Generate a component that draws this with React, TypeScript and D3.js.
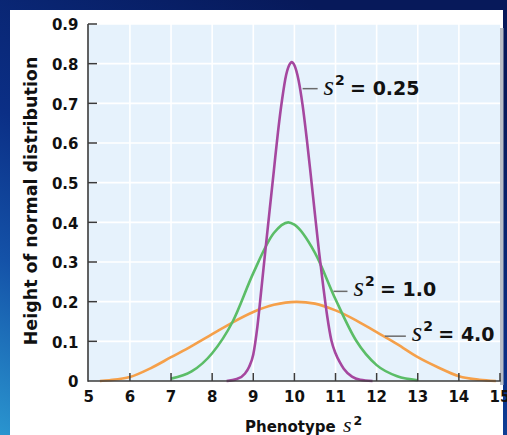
import React from "react";
import * as d3 from "d3";

// ---- data ----
const purpleX = [8.35, 8.6, 8.8, 8.9, 9.0, 9.1, 9.2, 9.3, 9.4, 9.5, 9.6, 9.7, 9.8, 9.9, 9.93, 10.0, 10.1, 10.2, 10.3, 10.4, 10.5, 10.6, 10.7, 10.8, 10.9, 11.0, 11.1, 11.2, 11.4, 11.6, 11.9];
const purpleY = [0, 0.005, 0.019, 0.036, 0.067, 0.137, 0.235, 0.335, 0.433, 0.53, 0.627, 0.709, 0.772, 0.801, 0.804, 0.796, 0.759, 0.695, 0.611, 0.517, 0.42, 0.325, 0.24, 0.162, 0.102, 0.07, 0.048, 0.031, 0.011, 0.003, 0];

const greenX = [7.0, 7.5, 8.0, 8.5, 9.0, 9.5, 9.85, 10.0, 10.5, 11.0, 11.5, 12.0, 12.5, 13.0];
const greenY = [0.006, 0.024, 0.07, 0.15, 0.272, 0.373, 0.4, 0.394, 0.323, 0.206, 0.102, 0.04, 0.012, 0.002];

const orangeX = [5.27, 5.5, 6.0, 6.5, 7.0, 7.5, 8.0, 8.5, 9.0, 9.5, 10.05, 10.5, 11.0, 11.5, 12.0, 12.5, 13.0, 13.5, 14.0, 14.5, 14.9];
const orangeY = [0, 0.002, 0.01, 0.032, 0.06, 0.088, 0.118, 0.148, 0.174, 0.192, 0.1995, 0.195, 0.178, 0.153, 0.123, 0.093, 0.06, 0.034, 0.012, 0.003, 0];

const xTicks = [5, 6, 7, 8, 9, 10, 11, 12, 13, 14, 15];
const yTicks = [0, 0.1, 0.2, 0.3, 0.4, 0.5, 0.6, 0.7, 0.8, 0.9];
const yTickLabels = ["0", "0.1", "0.2", "0.3", "0.4", "0.5", "0.6", "0.7", "0.8", "0.9"];

const labelVals = ["0.25", "1.0", "4.0"];
// anchor points on the curves (x, y) where the leader lines start
const labelAnchorX = [10.2, 10.95, 12.2];
const labelAnchorY = [0.737, 0.226, 0.113];

const W = 507;
const H = 435;
const L = 88, R = 500, T = 24, B = 381;

const FONT = "'DejaVu Sans', Verdana, sans-serif";
const SERIF = "'Liberation Serif', 'DejaVu Serif', serif";

export default function App() {
  const x = d3.scaleLinear().domain([5, 15]).range([L + 0.8, R]);
  const y = d3.scaleLinear().domain([0, 0.9]).range([B, T]);

  const line = d3
    .line<[number, number]>()
    .x((d) => x(d[0]))
    .y((d) => y(d[1]))
    .curve(d3.curveMonotoneX);

  const series = [
    { xs: orangeX, ys: orangeY, color: "#f5a04a" },
    { xs: greenX, ys: greenY, color: "#5bbd67" },
    { xs: purpleX, ys: purpleY, color: "#a5479f" },
  ];

  const labels = labelVals.map((v, i) => {
    const ax = x(labelAnchorX[i]);
    const ay = y(labelAnchorY[i]);
    const len = [15, 14, 21][i];
    const sx = ax + len + 6;
    return { v, ax, ay, len, sx, base: ay + [6, 5, 5][i] };
  });

  return (
    <svg
      width={W}
      height={H}
      style={{ position: "absolute", left: 0, top: 0, display: "block" }}
    >
      <defs>
        <linearGradient id="bg" x1="0.6" y1="0" x2="0" y2="1">
          <stop offset="0" stopColor="#07195a" />
          <stop offset="0.45" stopColor="#0b2f86" />
          <stop offset="0.7" stopColor="#1452a8" />
          <stop offset="1" stopColor="#2a95cf" />
        </linearGradient>
      </defs>
      <rect x={0} y={0} width={W} height={H} fill="url(#bg)" />
      <rect x={10} y={10} width={493} height={H - 10} fill="#ffffff" />

      {/* plot shadow + background */}
      <rect x={R} y={T + 4} width={3.5} height={B - T} fill="#b9bec7" />
      <rect x={L} y={T} width={R - L} height={B - T} fill="#e6f2fc" />

      {/* grid */}
      {xTicks.slice(1, -1).map((t) => (
        <line key={"gx" + t} x1={x(t)} x2={x(t)} y1={T} y2={B} stroke="#ffffff" strokeWidth={1.6} />
      ))}
      {yTicks.slice(1).map((t) => (
        <line key={"gy" + t} x1={L} x2={R} y1={y(t)} y2={y(t)} stroke="#ffffff" strokeWidth={1.6} />
      ))}

      {/* curves */}
      {series.map((s, i) => (
        <path
          key={i}
          d={line(s.xs.map((v, j) => [v, s.ys[j]] as [number, number])) || ""}
          fill="none"
          stroke={s.color}
          strokeWidth={2.6}
          strokeLinejoin="round"
        />
      ))}

      {/* axes */}
      <line x1={L} x2={L} y1={T} y2={B + 0.8} stroke="#3b3b3b" strokeWidth={1.6} />
      <line x1={L} x2={R + 0.8} y1={B} y2={B} stroke="#3b3b3b" strokeWidth={1.6} />
      {yTicks.slice(1).map((t) => (
        <line key={"ty" + t} x1={L} x2={L + 9} y1={y(t)} y2={y(t)} stroke="#3b3b3b" strokeWidth={1.5} />
      ))}
      {xTicks.slice(1).map((t) => (
        <line key={"tx" + t} x1={x(t)} x2={x(t)} y1={B} y2={B - 8} stroke="#3b3b3b" strokeWidth={1.5} />
      ))}

      {/* tick labels */}
      {yTicks.map((t, i) => (
        <text
          key={"ly" + t}
          x={78.5}
          y={y(t) + 6.2}
          textAnchor="end"
          fontFamily={FONT}
          fontWeight="bold"
          fontSize={15}
          fill="#111"
        >
          {yTickLabels[i]}
        </text>
      ))}
      {xTicks.map((t) => (
        <text
          key={"lx" + t}
          x={x(t)}
          y={401.5}
          textAnchor="middle"
          fontFamily={FONT}
          fontWeight="bold"
          fontSize={15}
          fill="#111"
        >
          {t}
        </text>
      ))}

      {/* axis titles */}
      <text
        transform="translate(37,201) rotate(-90)"
        textAnchor="middle"
        fontFamily={FONT}
        fontWeight="bold"
        fontSize={17.5}
        fill="#111"
      >
        Height of normal distribution
      </text>
      <text x={245} y={432} fontFamily={FONT} fontWeight="bold" fontSize={15} fill="#111">
        Phenotype
      </text>
      <text x={343} y={432} fontFamily={SERIF} fontStyle="italic" fontSize={22} fill="#111">
        s
      </text>
      <text x={353.5} y={425} fontFamily={FONT} fontWeight="bold" fontSize={12.5} fill="#111">
        2
      </text>

      {/* curve labels */}
      {labels.map((lb, i) => (
        <g key={"lab" + i}>
          <line x1={lb.ax} x2={lb.ax + lb.len} y1={lb.ay} y2={lb.ay} stroke="#6b6b6b" strokeWidth={1.5} />
          <text x={lb.sx} y={lb.base} fontFamily={SERIF} fontStyle="italic" fontSize={27} fill="#111">
            s
          </text>
          <text x={lb.sx + 11.5} y={lb.base - 10} fontFamily={FONT} fontWeight="bold" fontSize={14} fill="#111">
            2
          </text>
          <text x={lb.sx + 26.5} y={lb.base} fontFamily={FONT} fontWeight="bold" fontSize={19} fill="#111">
            {"= " + lb.v}
          </text>
        </g>
      ))}
    </svg>
  );
}
